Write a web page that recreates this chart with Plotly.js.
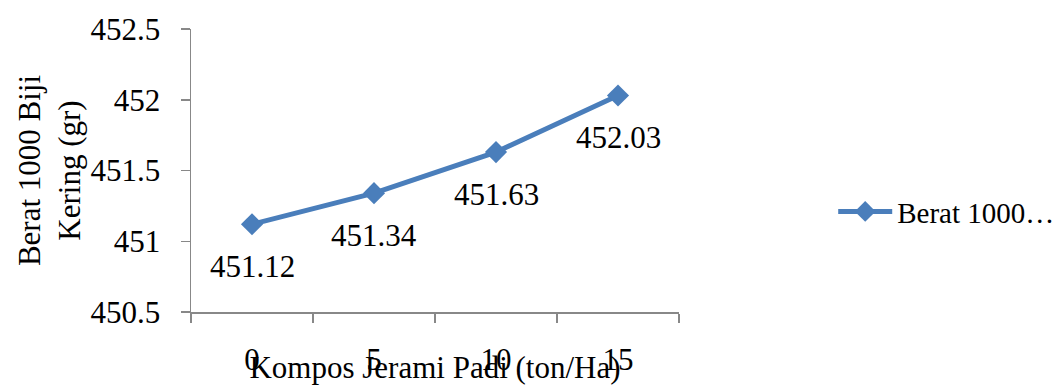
<!DOCTYPE html>
<html>
<head>
<meta charset="utf-8">
<script src="https://cdn.plot.ly/plotly-3.0.1.min.js"></script>
<style>html,body{margin:0;padding:0;background:#fff;}#chart{width:1062px;height:385px;}</style>
</head>
<body>
<div id="chart"></div>
<script>
const categories = ['0', '5', '10', '15'];
const values = [451.12, 451.34, 451.63, 452.03];
const labels = ['451.12', '451.34', '451.63', '452.03'];
const seriesName = 'Berat 1000…';
const yTickVals = [450.5, 451, 451.5, 452, 452.5];
const yTickText = ['450.5', '451', '451.5', '452', '452.5'];

const FONT = '"Liberation Serif", "Times New Roman", Times, serif';
const BLUE = '#4a7ebb';
const AXIS = '#888888';

const trace = {
  x: categories,
  y: values,
  type: 'scatter',
  mode: 'lines+markers',
  name: seriesName,
  line: {color: BLUE, width: 5},
  marker: {symbol: 'diamond', size: 17, color: BLUE},
  cliponaxis: false
};

const annotations = categories.map((c, i) => ({
  x: i, y: values[i], xref: 'x', yref: 'y',
  text: labels[i], showarrow: false,
  yshift: -42,
  font: {family: FONT, size: 31, color: '#000'}
}));

const layout = {
  width: 1062, height: 385,
  margin: {l: 191, r: 383, t: 29, b: 73, autoexpand: false},
  paper_bgcolor: '#fff', plot_bgcolor: '#fff',
  font: {family: FONT, size: 31, color: '#000'},
  showlegend: true,
  legend: {x: 1.316, y: 0.355, xanchor: 'left', yanchor: 'middle', itemwidth: 54,
           font: {family: FONT, size: 29, color: '#000'}, bgcolor: 'rgba(0,0,0,0)'},
  xaxis: {
    type: 'category', range: [-0.5, 3.5], tickson: 'boundaries',
    showgrid: false, zeroline: false,
    showline: true, linecolor: AXIS, linewidth: 1.5,
    ticks: 'outside', ticklen: 9, tickcolor: AXIS, tickwidth: 1.5,
    ticklabelstandoff: 19,
    tickfont: {family: FONT, size: 31, color: '#000'},
    title: {text: 'Kompos Jerami Padi (ton/Ha)', standoff: 0,
            font: {family: FONT, size: 31, color: '#000'}},
    automargin: false, fixedrange: true
  },
  yaxis: {
    range: [450.5, 452.5], tickmode: 'array', tickvals: yTickVals, ticktext: yTickText,
    showgrid: false, zeroline: false,
    showline: true, linecolor: AXIS, linewidth: 1.5,
    ticks: 'outside', ticklen: 9, tickcolor: AXIS, tickwidth: 1.5,
    ticklabelstandoff: 14,
    tickfont: {family: FONT, size: 31, color: '#000'},
    title: {text: 'Berat 1000 Biji<br>Kering (gr)', standoff: 0,
            font: {family: FONT, size: 31, color: '#000'}},
    automargin: false, fixedrange: true
  },
  annotations: annotations
};

Plotly.newPlot('chart', [trace], layout, {displayModeBar: false, staticPlot: true});
</script>
</body>
</html>
